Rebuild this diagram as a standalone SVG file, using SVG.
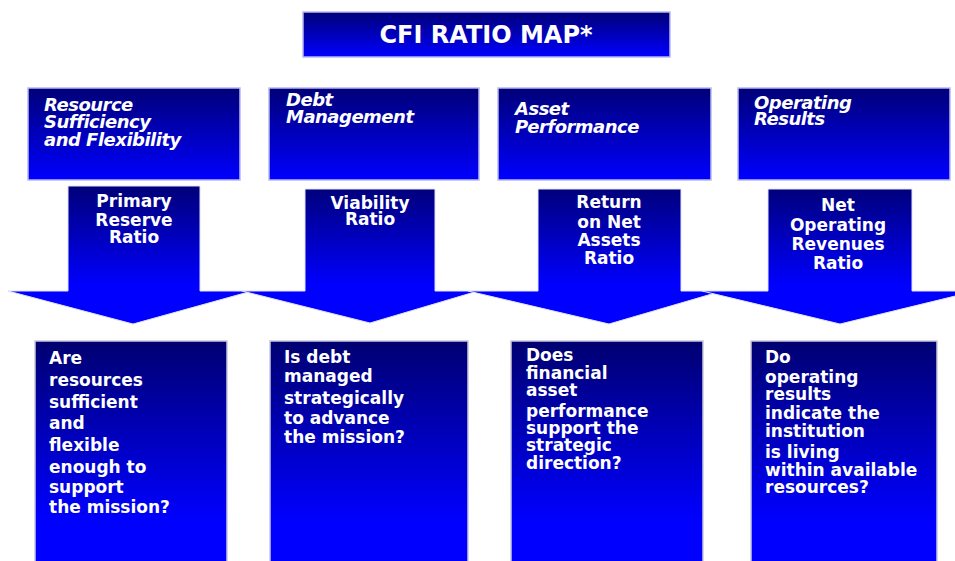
<svg xmlns="http://www.w3.org/2000/svg" width="955" height="561" viewBox="0 0 955 561">
<defs>
<linearGradient id="gTitle" x1="0" y1="0" x2="0" y2="1"><stop offset="0" stop-color="#000078"/><stop offset="1" stop-color="#0000ff"/></linearGradient>
<linearGradient id="gHead" x1="0" y1="0" x2="0" y2="1"><stop offset="0" stop-color="#000078"/><stop offset="1" stop-color="#0000ff"/></linearGradient>
<linearGradient id="gArrow" gradientUnits="userSpaceOnUse" x1="0" y1="186" x2="0" y2="286"><stop offset="0" stop-color="#000078"/><stop offset="1" stop-color="#0000ff"/></linearGradient>
<linearGradient id="gBox" gradientUnits="userSpaceOnUse" x1="0" y1="341" x2="0" y2="520"><stop offset="0" stop-color="#000070"/><stop offset="1" stop-color="#0000ff"/></linearGradient>
</defs>
<style>
.title{font-family:"DejaVu Sans",Verdana,sans-serif;font-weight:bold;font-size:24px;fill:#fff;text-anchor:middle}
.head{font-family:"DejaVu Sans",Verdana,sans-serif;font-weight:bold;font-style:italic;font-size:18px;fill:#fff;letter-spacing:-0.5px}
.lab{font-family:"DejaVu Sans",Verdana,sans-serif;font-weight:bold;font-size:17px;fill:#fff;text-anchor:middle}
.q{font-family:"DejaVu Sans",Verdana,sans-serif;font-weight:bold;font-size:17px;fill:#fff}
.hbox{fill:url(#gHead);stroke:#b8b8f0;stroke-width:1.5}
.arrow{fill:url(#gArrow);stroke:#e0e0ff;stroke-width:1}
.qbox{fill:url(#gBox);stroke:#c8c8dc;stroke-width:1.5}
</style>
<rect width="955" height="561" fill="#fff"/>
<g id="title">
<rect x="303" y="12" width="367" height="45" fill="url(#gTitle)" stroke="#b8b8f0" stroke-width="1.5"/>
<text class="title" x="486" y="43">CFI RATIO MAP*</text>
</g>
<g id="h1"><rect class="hbox" x="28" y="88" width="212" height="92"/>
<text class="head"><tspan x="44" y="111">Resource</tspan><tspan x="44" y="128">Sufficiency</tspan><tspan x="44" y="146">and Flexibility</tspan></text></g>
<g id="h2"><rect class="hbox" x="269" y="88" width="210" height="92"/>
<text class="head"><tspan x="286" y="106">Debt</tspan><tspan x="286" y="123">Management</tspan></text></g>
<g id="h3"><rect class="hbox" x="498" y="88" width="213" height="92"/>
<text class="head"><tspan x="515" y="115">Asset</tspan><tspan x="515" y="133">Performance</tspan></text></g>
<g id="h4"><rect class="hbox" x="738" y="88" width="212" height="92"/>
<text class="head"><tspan x="754" y="109">Operating</tspan><tspan x="754" y="125">Results</tspan></text></g>
<g id="connectors">
<g id="a1"><polygon class="arrow" points="68,186 200,186 200,291 252,291 133,324 8,291 68,291"/>
<text class="lab"><tspan x="134" y="207">Primary</tspan><tspan x="134" y="226">Reserve</tspan><tspan x="134" y="243">Ratio</tspan></text></g>
<g id="a2"><polygon class="arrow" points="305,189 435,189 435,291 478,291 370,323 242,291 305,291"/>
<text class="lab"><tspan x="370" y="209">Viability</tspan><tspan x="370" y="225">Ratio</tspan></text></g>
<g id="a3"><polygon class="arrow" points="538,189 681,189 681,291 722,291 609,324 468,291 538,291"/>
<text class="lab"><tspan x="609" y="208">Return</tspan><tspan x="609" y="228">on Net</tspan><tspan x="609" y="246">Assets</tspan><tspan x="609" y="264">Ratio</tspan></text></g>
<g id="a4"><polygon class="arrow" points="768,189 912,189 912,291 976,291 840,324 702,291 768,291"/>
<text class="lab"><tspan x="838" y="211">Net</tspan><tspan x="838" y="231">Operating</tspan><tspan x="838" y="250">Revenues</tspan><tspan x="838" y="269">Ratio</tspan></text></g>
</g>
<g id="q1"><rect class="qbox" x="35" y="341" width="192" height="225"/>
<text class="q"><tspan x="49" y="364">Are</tspan><tspan x="49" y="386">resources</tspan><tspan x="49" y="408">sufficient</tspan><tspan x="49" y="429">and</tspan><tspan x="49" y="451">flexible</tspan><tspan x="49" y="473">enough to</tspan><tspan x="49" y="493">support</tspan><tspan x="49" y="513">the mission?</tspan></text></g>
<g id="q2"><rect class="qbox" x="270" y="341" width="198" height="225"/>
<text class="q"><tspan x="284" y="363">Is debt</tspan><tspan x="284" y="382">managed</tspan><tspan x="284" y="404">strategically</tspan><tspan x="284" y="424">to advance</tspan><tspan x="284" y="443">the mission?</tspan></text></g>
<g id="q3"><rect class="qbox" x="511" y="341" width="192" height="225"/>
<text class="q"><tspan x="526" y="361">Does</tspan><tspan x="526" y="379">financial</tspan><tspan x="526" y="396">asset</tspan><tspan x="526" y="417">performance</tspan><tspan x="526" y="434">support the</tspan><tspan x="526" y="451">strategic</tspan><tspan x="526" y="469">direction?</tspan></text></g>
<g id="q4"><rect class="qbox" x="751" y="341" width="186" height="225"/>
<text class="q"><tspan x="765" y="363">Do</tspan><tspan x="765" y="383">operating</tspan><tspan x="765" y="400">results</tspan><tspan x="765" y="419">indicate the</tspan><tspan x="765" y="437">institution</tspan><tspan x="765" y="458">is living</tspan><tspan x="765" y="476">within available</tspan><tspan x="765" y="493">resources?</tspan></text></g>
</svg>
